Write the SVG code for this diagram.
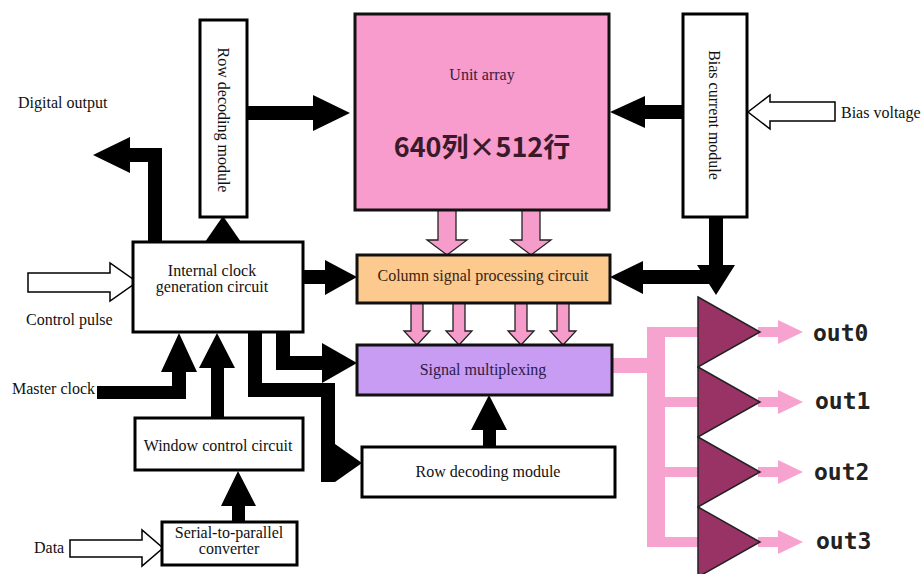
<svg xmlns="http://www.w3.org/2000/svg" width="922" height="574" viewBox="0 0 922 574">
<style>
.box{fill:#fff;stroke:#000;stroke-width:3}
.t{font-family:"Liberation Serif","Times New Roman",serif;font-size:16px;fill:#111}
.blk{fill:#000}
.hol{fill:#fff;stroke:#000;stroke-width:1.5}
.pk{fill:#f59ccb;stroke:#222;stroke-width:1.3}
.pb{fill:#f7a3cf}
.amp{fill:#993366;stroke:#222;stroke-width:1.5}
.out{font-family:"DejaVu Sans Mono",monospace;font-weight:bold;font-size:23px;fill:#222}
</style>
<rect width="922" height="574" fill="#fff"/>

<g id="connectors">
  <polygon class="blk" points="247,106 313,106 313,95 350,113 313,131 313,120 247,120"/>
  <polygon class="blk" points="683,105 645,105 645,96 610,112 645,128 645,119 683,119"/>
  <polygon class="hol" points="835,102 770,102 770,95 748,112 770,129 770,121 835,121"/>
  <polygon class="blk" points="709,217 723,217 723,265 735,265 716,295 697,265 709,265"/>
  <polygon class="blk" points="716,270 716,284 643,284 643,294 610,277 643,261 643,270"/>
  <polygon class="blk" points="303,270 325,270 325,260 357,277 325,295 325,284 303,284"/>
  <polygon class="blk" points="205,242 223,216 241,242"/>
  <polygon class="blk" points="162,242 162,148 130,148 130,137 93,155 130,173 130,162 148,162 148,242"/>
  <polygon class="hol" points="28,273 110,273 110,263 137,282 110,301 110,292 28,292"/>
  <polygon class="blk" points="97,386 172,386 172,372 161,372 179,333 197,372 186,372 186,399 97,399"/>
  <polygon class="blk" points="211,418 211,368 199,368 217,333 235,368 224,368 224,418"/>
  <polygon class="blk" points="232,522 232,506 221,506 238,471 256,506 245,506 245,522"/>
  <polygon class="hol" points="70,540 142,540 142,530 163,548 142,566 142,557 70,557"/>
  <polygon class="blk" points="276,332 290,332 290,356 322,356 322,343 357,363 322,383 322,370 276,370"/>
  <polygon class="blk" points="248,332 262,332 262,383 335,383 335,444 362,463 335,482 321,482 321,397 248,397"/>
  <polygon class="blk" points="483,447 483,430 471,430 489,395 507,430 496,430 496,447"/>
  <polygon class="pk" points="438,210 456,210 456,240 467,240 447,255 427,240 438,240"/>
  <polygon class="pk" points="522,210 540,210 540,240 551,240 531,255 511,240 522,240"/>
  <polygon class="pk" points="411,303 423,303 423,331 430,331 417,345 404,331 411,331"/>
  <polygon class="pk" points="453,303 465,303 465,331 472,331 459,345 446,331 453,331"/>
  <polygon class="pk" points="515,303 527,303 527,331 534,331 521,345 508,331 515,331"/>
  <polygon class="pk" points="557,303 569,303 569,331 576,331 563,345 550,331 557,331"/>
  <rect class="pb" x="612" y="358" width="53" height="15"/>
  <rect class="pb" x="647" y="327" width="18" height="220"/>
  <rect class="pb" x="647" y="327" width="53" height="10"/>
  <rect class="pb" x="647" y="397" width="53" height="10"/>
  <rect class="pb" x="647" y="467" width="53" height="10"/>
  <rect class="pb" x="647" y="537" width="53" height="10"/>
  <polygon class="pb" points="758,327 778,327 778,320 803,332 778,344 778,337 758,337"/>
  <polygon class="pb" points="758,397 778,397 778,390 803,402 778,414 778,407 758,407"/>
  <polygon class="pb" points="758,467 778,467 778,460 803,472 778,484 778,477 758,477"/>
  <polygon class="pb" points="758,537 778,537 778,530 803,542 778,554 778,547 758,547"/>
</g>

<g id="row-decoding-top">
  <rect class="box" x="200" y="20" width="47" height="197"/>
  <text class="t" transform="translate(218,120) rotate(90)" text-anchor="middle">Row decoding module</text>
</g>
<g id="unit-array">
  <rect x="355" y="14" width="254" height="196" fill="#f79ccc" stroke="#111" stroke-width="3"/>
  <text class="t" x="482" y="80" text-anchor="middle" style="fill:#3a1a3a">Unit array</text>
  <text x="482" y="157" text-anchor="middle" font-family="'Noto Sans CJK SC','Noto Sans',sans-serif" font-size="27" font-weight="bold" fill="#3a1a2a">640列×512行</text>
</g>
<g id="bias-current">
  <rect class="box" x="683" y="14" width="64" height="203"/>
  <text class="t" transform="translate(709,115) rotate(90)" text-anchor="middle">Bias current module</text>
</g>
<g id="bias-voltage"><text class="t" x="841" y="118">Bias voltage</text></g>
<g id="digital-output"><text class="t" x="18" y="108">Digital output</text></g>
<g id="control-pulse"><text class="t" x="26" y="325">Control pulse</text></g>
<g id="master-clock"><text class="t" x="12" y="394">Master clock</text></g>
<g id="data"><text class="t" x="34" y="553">Data</text></g>
<g id="clock-gen">
  <rect class="box" x="133" y="242" width="170" height="90"/>
  <text class="t" x="212" y="276" text-anchor="middle">Internal clock</text>
  <text class="t" x="212" y="292" text-anchor="middle">generation circuit</text>
</g>
<g id="column-signal">
  <rect x="357" y="255" width="253" height="48" fill="#fcc98f" stroke="#111" stroke-width="3"/>
  <text class="t" x="483" y="281" text-anchor="middle" style="fill:#3a2410">Column signal processing circuit</text>
</g>
<g id="signal-mux">
  <rect x="357" y="345" width="255" height="50" fill="#c79cf2" stroke="#111" stroke-width="3"/>
  <text class="t" x="483" y="375" text-anchor="middle" style="fill:#2a1a4a">Signal multiplexing</text>
</g>
<g id="window-control">
  <rect class="box" x="135" y="418" width="168" height="52"/>
  <text class="t" x="218" y="451" text-anchor="middle">Window control circuit</text>
</g>
<g id="serial-parallel">
  <rect class="box" x="162" y="522" width="135" height="43"/>
  <text class="t" x="229" y="538" text-anchor="middle">Serial-to-parallel</text>
  <text class="t" x="229" y="554" text-anchor="middle">converter</text>
</g>
<g id="row-decoding-bottom">
  <rect class="box" x="362" y="447" width="253" height="50"/>
  <text class="t" x="488" y="477" text-anchor="middle">Row decoding module</text>
</g>
<g id="amp0"><polygon class="amp" points="698,297 760,332 698,367"/><text class="out" x="813" y="341">out0</text></g>
<g id="amp1"><polygon class="amp" points="698,367 760,402 698,437"/><text class="out" x="815" y="409">out1</text></g>
<g id="amp2"><polygon class="amp" points="698,437 760,472 698,507"/><text class="out" x="814" y="480">out2</text></g>
<g id="amp3"><polygon class="amp" points="698,507 760,542 698,577"/><text class="out" x="816" y="549">out3</text></g>
</svg>
